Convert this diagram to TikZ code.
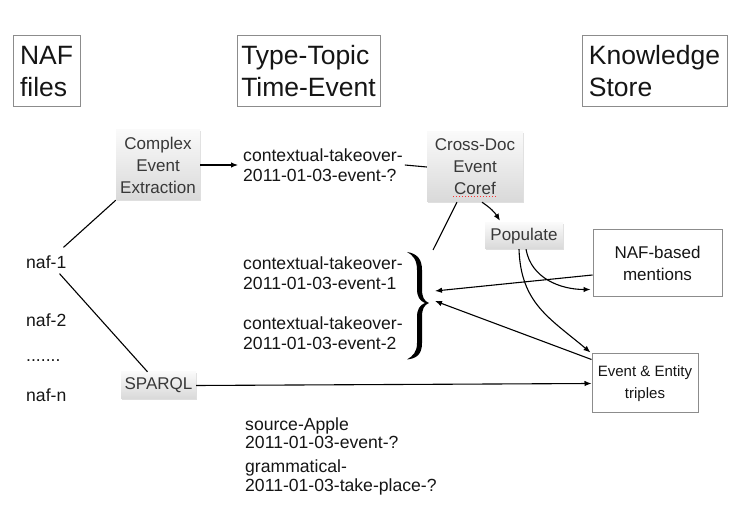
\documentclass[tikz,border=0pt]{standalone}
\usepackage{fontspec}
\setmainfont{Liberation Sans}
\usetikzlibrary{arrows.meta,shadows,calc}
\definecolor{txt}{HTML}{151515}
\definecolor{bord}{HTML}{8C8C8C}
\begin{document}
\begin{tikzpicture}[x=1pt,y=1pt,
  every node/.style={text=txt},
  hdr/.style={draw=bord,line width=1pt,align=left,font=\fontsize{26.5}{32}\selectfont,inner sep=0pt},
  proc/.style={top color=gray!4,bottom color=gray!30,drop shadow={shadow xshift=1pt,shadow yshift=-1.5pt,opacity=0.25},align=center,font=\fontsize{17}{22}\selectfont,inner sep=0pt,text=txt!85},
  plainbox/.style={draw=bord,line width=1pt,fill=white,align=center,font=\fontsize{17}{22}\selectfont,inner sep=0pt},
  lbl/.style={align=left,font=\fontsize{17.6}{20}\selectfont,inner sep=0pt,anchor=west},
  lbltight/.style={lbl,font=\fontsize{17.6}{18.5}\selectfont},
  con/.style={line width=1.1pt,black},
  arr/.style={con,-{Latex[length=7pt,width=5.5pt]}}
]
\useasboundingbox (0,0) rectangle (729,525);

% headers
\node[hdr,minimum width=67pt,minimum height=71pt] (hnaf) at (46.5,453.5) {NAF\\files};
\node[hdr,minimum width=143pt,minimum height=71pt] (htt) at (308.5,453.5) {Type-Topic\\Time-Event};
\node[hdr,minimum width=145pt,minimum height=71pt] (hks) at (654.5,453.5) {Knowledge\\Store};

% process boxes
\node[proc,minimum width=84pt,minimum height=70pt] (cee) at (158,360) {Complex\\Event\\Extraction};
\node[proc,minimum width=96pt,minimum height=70pt] (cdec) at (475,358) {Cross-Doc\\Event\\Coref};
\node[proc,minimum width=78pt,minimum height=26pt] (pop) at (524,289) {Populate};
\node[proc,minimum width=75pt,minimum height=27pt] (sparql) at (158.5,139.5) {SPARQL};

% plain boxes
\node[plainbox,minimum width=129pt,minimum height=67pt] (nafm) at (657.5,261.5) {NAF-based\\mentions};
\node[plainbox,minimum width=106pt,minimum height=59pt,font=\fontsize{15}{22}\selectfont] (eet) at (645,141.5) {Event \& Entity\\triples};

% labels
\node[lbl] (ctq) at (243,360) {contextual-takeover-\\2011-01-03-event-?};
\node[lbl] (ce1) at (243,252) {contextual-takeover-\\2011-01-03-event-1};
\node[lbl] (ce2) at (243,192) {contextual-takeover-\\2011-01-03-event-2};
\node[lbltight] (sa) at (245,92) {source-Apple\\2011-01-03-event-?};
\node[lbltight] (gr) at (245,47.5) {grammatical-\\2011-01-03-take-place-?};

\node[lbl] (naf1) at (26,263) {naf-1};
\node[lbl] (naf2) at (26,205) {naf-2};
\node[lbl,anchor=base west] (dots) at (26,163) {.......};
\node[lbl] (nafn) at (26,130) {naf-n};

% spell-check squiggle under Coref
\draw[red!80,dotted,line width=1pt] ($(cdec.south)+(-22,6)$) -- ($(cdec.south)+(22,6)$);

% brace
\fill[black] (407,273)
  .. controls (417,271.5) and (422,266) .. (422,255)
  -- (422,236)
  .. controls (422,228) and (424,224) .. (429,222)
  .. controls (424,220) and (422,216) .. (422,208)
  -- (422,182)
  .. controls (422,171) and (417,166.5) .. (407,165.5)
  .. controls (413,169) and (417,173) .. (417,182)
  -- (417,208)
  .. controls (417,216) and (420,220) .. (425,222)
  .. controls (420,224) and (417,228) .. (417,236)
  -- (417,255)
  .. controls (417,265) and (413,270) .. (407,273) -- cycle;

\coordinate (bt) at (433,275);
\coordinate (b1) at (435,234);
\coordinate (b2) at (435,224);

% connectors
\draw[con] ($(naf1.north east)+(-3,8)$) -- (cee.south west);
\draw[con] ($(naf1.south east)+(-7,-5)$) -- ($(sparql.north)+(-11,0)$);
\draw[arr] (cee.east) -- ($(ctq.west)+(-5,0)$);
\draw[con] ($(ctq.east)+(2,0)$) -- (cdec.west);
\draw[arr] ($(cdec.south)+(7,0)$) to[bend left=12] ($(pop.north)+(-24,2)$);
\draw[con] ($(cdec.south)+(-18,0)$) -- (bt);
\draw[arr] ($(nafm.west)+(0,-11.5)$) -- (b1);
\draw[arr] ($(eet.north west)+(0,-6)$) -- (b2);
\draw[arr] ($(pop.south)+(2,0)$) to[out=-80,in=180] ($(nafm.west)+(-2,-26)$);
\draw[arr] ($(pop.south)+(-5,0)$) to[out=-88,in=140,looseness=1.1] ($(eet.north west)+(-1,1)$);
\draw[arr] (sparql.east) -- (eet.west);
\end{tikzpicture}
\end{document}
